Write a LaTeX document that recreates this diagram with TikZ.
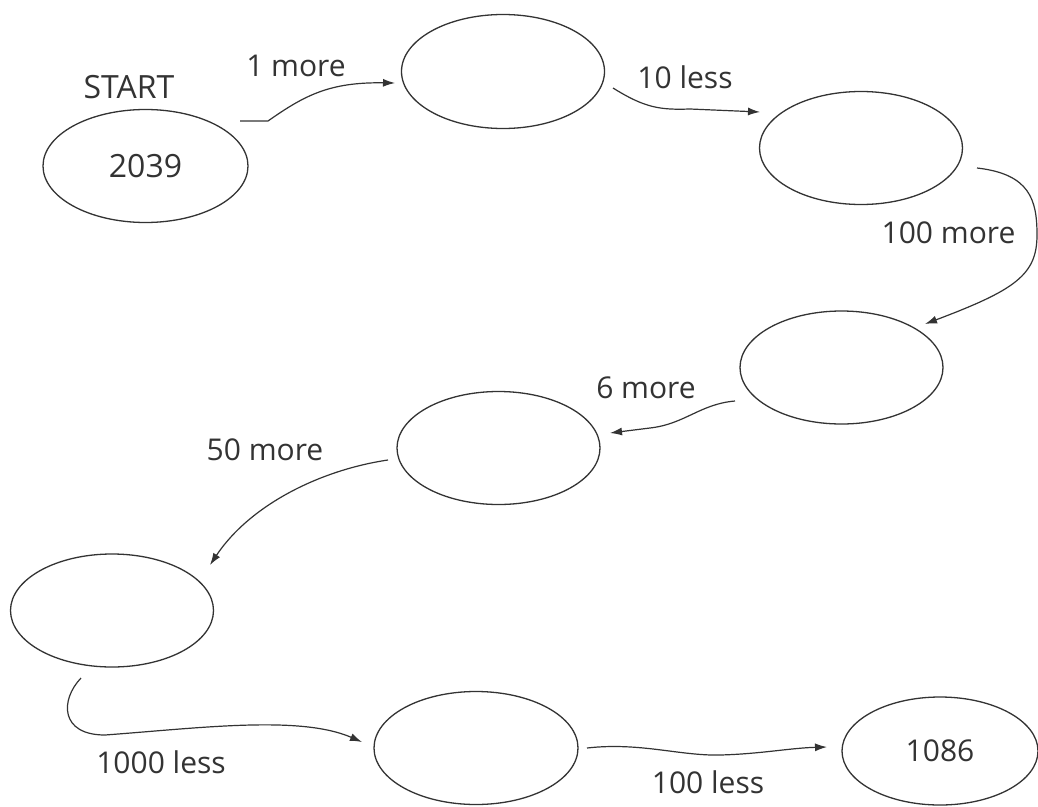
\documentclass[tikz,border=0pt]{standalone}
\usepackage{fontspec}
\setmainfont{Open Sans}
\usetikzlibrary{shapes.geometric,arrows.meta}
\definecolor{ink}{HTML}{333333}
\tikzset{
  oval/.style={ellipse, draw=ink, line width=1.3pt, minimum width=203pt, minimum height=113pt, inner sep=0pt, text=ink, font=\fontsize{32}{36}\selectfont},
  lbl/.style={text=ink, font=\fontsize{30}{34}\selectfont, inner sep=0pt},
  conn/.style={draw=ink, line width=1.2pt, -{Latex[length=12pt,width=8pt]}}
}
\begin{document}
\begin{tikzpicture}[x=1pt,y=-1pt]
\fill[white] (0,0) rectangle (1038,806);
\useasboundingbox (0,0) rectangle (1038,806);
% ellipses
\node[oval, minimum width=205pt] (A) at (145.5,166) {2039};
\node[oval, minimum height=114pt] (B) at (503,71.5) {};
\node[oval] (C) at (861,148) {};
\node[oval] (D) at (841.5,367.5) {};
\node[oval] (E) at (498.5,448) {};
\node[oval] (F) at (112,610.5) {};
\node[oval, minimum width=204pt] (G) at (476,748) {};
\node[oval, minimum width=196pt, minimum height=108pt, font=\fontsize{30}{34}\selectfont] (H) at (940,751) {1086};
% labels
\node[lbl, font=\fontsize{32}{36}\selectfont] (start) at (129,87.5) {START};
\node[lbl] (l1) at (296,66) {1 more};
\node[lbl] (l2) at (685,77) {10 less};
\node[lbl] (l3) at (948.5,232.5) {100 more};
\node[lbl] (l4) at (646,388) {6 more};
\node[lbl] (l5) at (265,450) {50 more};
\node[lbl] (l6) at (161,762) {1000 less};
\node[lbl] (l7) at (708,782) {100 less};
% connector ends
\coordinate (a0) at ([shift={(94.5,-45)}]A.center);
\coordinate (b1) at ([shift={(-108,11.5)}]B.center);
\coordinate (b0) at ([shift={(110,16.5)}]B.center);
\coordinate (c1) at ([shift={(-101,-36)}]C.center);
\coordinate (c0) at ([shift={(116,20)}]C.center);
\coordinate (d1) at ([shift={(83.5,-43.5)}]D.center);
\coordinate (d0) at ([shift={(-106.5,33.5)}]D.center);
\coordinate (e1) at ([shift={(111.5,-15)}]E.center);
\coordinate (e0) at ([shift={(-110.5,12)}]E.center);
\coordinate (f1) at ([shift={(98,-45.5)}]F.center);
\coordinate (f0) at ([shift={(-31,67.5)}]F.center);
\coordinate (g1) at ([shift={(-114,-6)}]G.center);
\coordinate (g0) at ([shift={(111,0)}]G.center);
\coordinate (h1) at ([shift={(-113,-4)}]H.center);
% connectors
\draw[conn] (a0) -- (268,121) .. controls (305,95) and (330,82) .. (b1);
\draw[conn] (b0) .. controls (645,108) and (660,110) .. (690,109) -- (c1);
\draw[conn] (c0) .. controls (1030,174) and (1037,200) .. (1037,235)
  .. controls (1037,275) and (1015,290) .. (d1);
\draw[conn] (d0) .. controls (700,404) and (685,424) .. (650,428) -- (e1);
\draw[conn] (e0) .. controls (320,470) and (250,505) .. (f1);
\draw[conn] (f0) .. controls (60,700) and (60,735) .. (105,735)
  .. controls (200,728) and (300,715) .. (g1);
\draw[conn] (g0) .. controls (640,742) and (680,756) .. (720,755)
  .. controls (760,754) and (790,748) .. (h1);
\end{tikzpicture}
\end{document}
